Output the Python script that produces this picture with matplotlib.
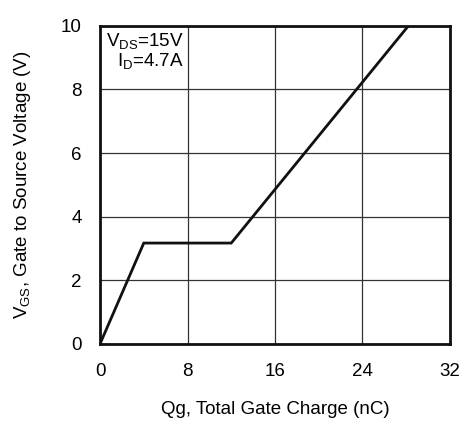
import matplotlib
matplotlib.use("Agg")
import matplotlib.pyplot as plt

plt.rcParams['font.family'] = ['Liberation Sans', 'DejaVu Sans']
plt.rcParams['mathtext.fontset'] = 'custom'
plt.rcParams['mathtext.rm'] = 'Liberation Sans'

# gate charge curve
qg = [0, 4.0, 12.0, 28.2]
vgs = [0, 3.17, 3.17, 10.0]

xticks = [0, 8, 16, 24, 32]
yticks = [0, 2, 4, 6, 8, 10]

fig = plt.figure(figsize=(4.61, 4.24), dpi=100)
ax = fig.add_axes([0.217, 0.189, 0.759, 0.750])

ax.plot(qg, vgs, color="#111111", linewidth=2.0, solid_joinstyle="miter")

ax.set_xlim(0, 32)
ax.set_ylim(0, 10)
ax.set_xticks(xticks)
ax.set_yticks(yticks)
ax.grid(True, color="#333333", linewidth=0.9)
ax.tick_params(length=0, labelsize=13.5)
ax.tick_params(axis="x", pad=14)
ax.tick_params(axis="y", pad=13)
for s in ax.spines.values():
    s.set_linewidth(2.0)
    s.set_color("#111111")

ax.set_xlabel("Qg, Total Gate Charge (nC)", fontsize=13.5, labelpad=15)
ax.set_ylabel(r"$\mathregular{V_{GS}}$, Gate to Source Voltage (V)", fontsize=13.5, labelpad=20)

ax.text(0.55, 9.85, r"$\mathregular{V_{DS}}$=15V" + "\n" + r"$\mathregular{I_{D}}$=4.7A",
        ha="left", va="top", fontsize=13.5, multialignment="right", linespacing=1.05)

fig.savefig("out.png", dpi=100)
